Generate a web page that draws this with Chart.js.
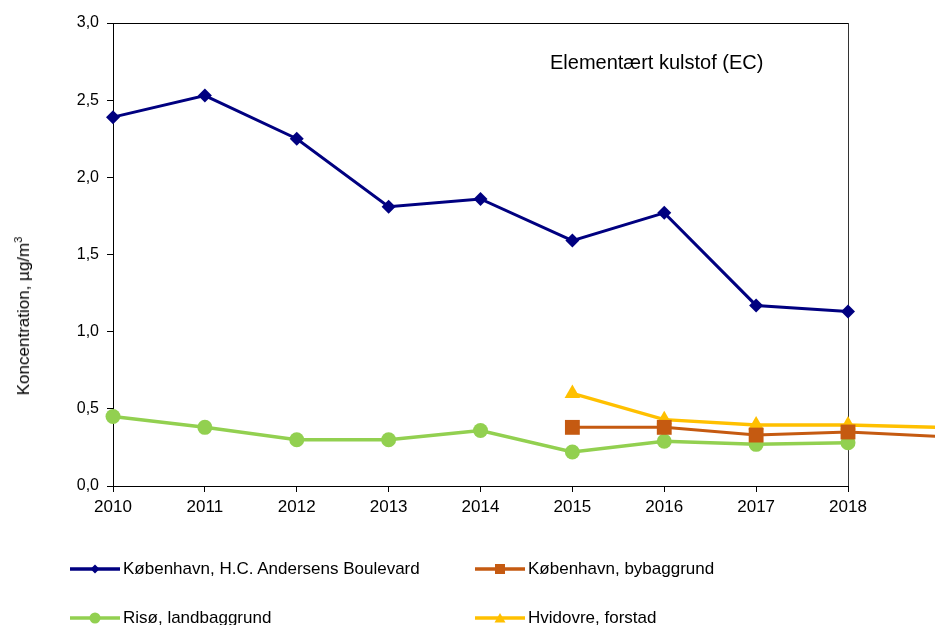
<!DOCTYPE html>
<html lang="da">
<head>
<meta charset="utf-8">
<title>Elementært kulstof (EC)</title>
<script src="https://cdn.jsdelivr.net/npm/chart.js@4.4.1/dist/chart.umd.min.js"></script>
<style>
    html, body {
        margin: 0;
        padding: 0;
        background: #fff;
        overflow: hidden;
    }
    #wrap {
        position: relative;
        width: 935px;
        height: 625px;
        font-family: "Liberation Sans", Arial, sans-serif;
        color: #000;
    }
    #chart {
        position: absolute;
        left: 0;
        top: 0;
    }
    .chart-title {
        position: absolute;
        left: 550px;
        top: 51px;
        font-size: 20px;
        white-space: nowrap;
    }
    .y-title {
        position: absolute;
        left: 24px;
        top: 316px;
        font-size: 17px;
        white-space: nowrap;
        transform: translate(-50%, -50%) rotate(-90deg);
    }
    .y-title sup {
        font-size: 11px;
        vertical-align: 7px;
        line-height: 0;
    }
    .legend-item {
        position: absolute;
        display: flex;
        align-items: center;
        font-size: 17px;
        white-space: nowrap;
    }
    .legend-item svg {
        margin-right: 3px;
    }
</style>
</head>
<body>
<div id="wrap">
    <canvas id="chart" width="935" height="625"></canvas>
    <div class="chart-title">Elementært kulstof (EC)</div>
    <div class="y-title">Koncentration, µg/m<sup>3</sup></div>
    <div id="legend"></div>
</div>
<script>
// Years on the axis, plus the next year that the lines run into past the frame
const years = [2010, 2011, 2012, 2013, 2014, 2015, 2016, 2017, 2018];
const dataYears = [2010, 2011, 2012, 2013, 2014, 2015, 2016, 2017, 2018, 2019];
const yTickLabels = ['0,0', '0,5', '1,0', '1,5', '2,0', '2,5', '3,0'];

const seriesNames = [
    'København, H.C. Andersens Boulevard',
    'København, bybaggrund',
    'Risø, landbaggrund',
    'Hvidovre, forstad'
];

// Concentration, µg/m3
const hcab = [2.39, 2.53, 2.25, 1.81, 1.86, 1.59, 1.77, 1.17, 1.13, null];
const bybaggrund = [null, null, null, null, null, 0.38, 0.38, 0.33, 0.35, 0.32];
const risoe = [0.45, 0.38, 0.30, 0.30, 0.36, 0.22, 0.29, 0.27, 0.28, null];
const hvidovre = [null, null, null, null, null, 0.60, 0.43, 0.395, 0.395, 0.38];

const lastYear = years[years.length - 1];

const styles = [
    { color: '#000080', marker: 'rectRot', radius: 7, width: 3 },
    { color: '#C55A11', marker: 'rect', radius: 10.5, width: 3 },
    { color: '#92D050', marker: 'circle', radius: 7.5, width: 3.5 },
    { color: '#FFC000', marker: 'triangle', radius: 9, width: 3.5 }
];

function toPoints(values) {
    return dataYears.map((x, i) => ({ x: x, y: values[i] }));
}

function makeDataset(label, values, style) {
    return {
        label: label,
        data: toPoints(values),
        borderColor: style.color,
        backgroundColor: style.color,
        borderWidth: style.width,
        pointStyle: style.marker,
        pointRadius: ctx => (ctx.raw && ctx.raw.x > lastYear ? 0 : style.radius),
        pointBorderWidth: 0,
        pointBackgroundColor: style.color,
        tension: 0,
        clip: false
    };
}

// Draw order: city background first, then the others on top
const datasets = [
    makeDataset(seriesNames[1], bybaggrund, styles[1]),
    makeDataset(seriesNames[3], hvidovre, styles[3]),
    makeDataset(seriesNames[2], risoe, styles[2]),
    makeDataset(seriesNames[0], hcab, styles[0])
];

const tickFont = { family: '"Liberation Sans", Arial, sans-serif', size: 16 };

new Chart(document.getElementById('chart'), {
    type: 'line',
    data: { datasets: datasets },
    options: {
        responsive: false,
        animation: false,
        devicePixelRatio: 1,
        layout: { padding: { left: 0, right: 87, top: 23, bottom: 0 } },
        plugins: {
            legend: { display: false },
            tooltip: { enabled: false }
        },
        scales: {
            x: {
                type: 'linear',
                // set the range here so the last line segments are still drawn past 2018
                afterDataLimits: scale => {
                    scale.min = years[0];
                    scale.max = lastYear;
                },
                afterFit: scale => { scale.height = 139; },
                ticks: {
                    stepSize: 1,
                    autoSkip: false,
                    maxRotation: 0,
                    padding: 5,
                    color: '#000',
                    font: { family: tickFont.family, size: 17 },
                    callback: value => String(value)
                },
                grid: {
                    color: ctx => (ctx.tick && ctx.tick.value === lastYear ? '#333' : 'rgba(0,0,0,0)'),
                    tickColor: '#000',
                    tickLength: 6,
                    lineWidth: 1
                },
                border: { color: '#000', width: 1 }
            },
            y: {
                min: 0,
                max: 3,
                afterFit: scale => { scale.width = 113; },
                ticks: {
                    stepSize: 0.5,
                    padding: 8,
                    color: '#000',
                    font: tickFont,
                    callback: (value, index) => yTickLabels[index]
                },
                grid: {
                    color: ctx => (ctx.tick && ctx.tick.value === 3 ? '#000' : 'rgba(0,0,0,0)'),
                    tickColor: '#000',
                    tickLength: 6,
                    lineWidth: 1
                },
                border: { color: '#000', width: 1 }
            }
        }
    }
});

// Legend: two columns, two rows, like the original
function markerSvg(style) {
    const c = style.color;
    const cx = 25, cy = 8;
    let shape = '';
    if (style.marker === 'rectRot') {
        shape = `<polygon points="${cx - 4.5},${cy} ${cx},${cy - 4.5} ${cx + 4.5},${cy} ${cx},${cy + 4.5}" fill="${c}"/>`;
    } else if (style.marker === 'rect') {
        shape = `<rect x="${cx - 5}" y="${cy - 5}" width="10" height="10" fill="${c}"/>`;
    } else if (style.marker === 'circle') {
        shape = `<circle cx="${cx}" cy="${cy}" r="5.5" fill="${c}"/>`;
    } else {
        shape = `<polygon points="${cx - 5.5},${cy + 4.5} ${cx},${cy - 5} ${cx + 5.5},${cy + 4.5}" fill="${c}"/>`;
    }
    return `<svg width="50" height="16" viewBox="0 0 50 16">
        <line x1="0" y1="${cy}" x2="50" y2="${cy}" stroke="${c}" stroke-width="3.5"/>${shape}</svg>`;
}

const legendSlots = [
    { left: 70, top: 568 },
    { left: 475, top: 568 },
    { left: 70, top: 617 },
    { left: 475, top: 617 }
];

const legend = document.getElementById('legend');
seriesNames.forEach((name, i) => {
    const item = document.createElement('div');
    item.className = 'legend-item';
    item.style.left = legendSlots[i].left + 'px';
    item.style.top = (legendSlots[i].top - 9) + 'px';
    item.innerHTML = markerSvg(styles[i]) + `<span>${name}</span>`;
    legend.appendChild(item);
});
</script>
</body>
</html>
